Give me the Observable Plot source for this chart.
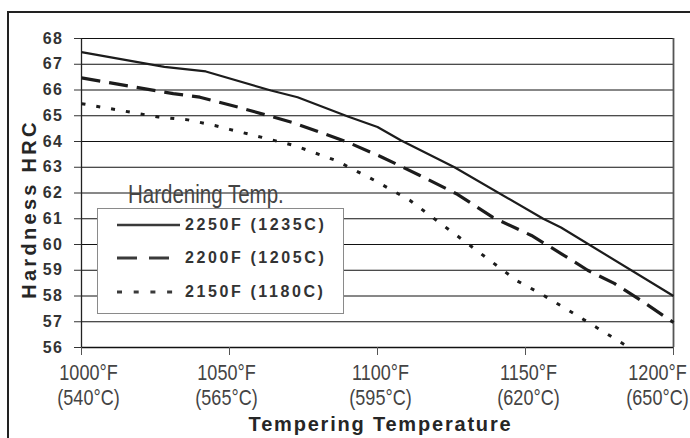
<!DOCTYPE html>
<html>
<head>
<meta charset="utf-8">
<script src="https://cdn.jsdelivr.net/npm/d3@7"></script>
<script src="https://cdn.jsdelivr.net/npm/@observablehq/plot@0.6"></script>
<style>
html, body { margin: 0; padding: 0; background: #fff; }
#wrap { position: relative; width: 690px; height: 438px; overflow: hidden; font-family: "Liberation Sans", Arial, sans-serif; }
#frame { position: absolute; left: 7px; top: 11px; width: 720px; height: 460px; border-left: 2.5px solid #222; border-top: 2.5px solid #222; }
#chart { position: absolute; left: 0; top: 0; }
#legbox { position: absolute; left: 96.5px; top: 207.5px; width: 247px; height: 106px; border: 1.5px solid #8a8a8a; background: #fff; box-sizing: border-box; }
#legtitle { position: absolute; left: 128px; top: 180px; line-height: 28px; color: #444; white-space: nowrap; transform-origin: 0 50%; }
.legrow-sample { position: absolute; width: 64px; height: 8px; }
.legrow-text { position: absolute; font-size: 16px; font-weight: bold; letter-spacing: 2.6px; color: #333; line-height: 20px; white-space: nowrap; }
</style>
</head>
<body>
<div id="wrap">
  <div id="frame"></div>
  <div id="chart"></div>
  <div id="legtitle"></div>
  <div id="legbox"></div>
</div>
<script>
// ---- Data ----
const temps2250 = [1000, 1028, 1042, 1064, 1073, 1090, 1100, 1108, 1126, 1156, 1162, 1200];
const hrc2250   = [67.47, 66.9, 66.72, 65.98, 65.72, 64.97, 64.56, 64.04, 63.0, 61.0, 60.66, 58.0];

const temps2200 = [1000, 1031, 1040, 1053, 1071, 1090, 1101, 1114, 1127, 1139, 1152, 1162, 1171, 1180, 1189, 1200];
const hrc2200   = [66.47, 65.86, 65.72, 65.33, 64.75, 63.97, 63.42, 62.7, 61.95, 61.05, 60.35, 59.65, 59.0, 58.49, 57.83, 56.97];

const temps2150 = [1000, 1026, 1036, 1045, 1050, 1061, 1072, 1086, 1099, 1111, 1120, 1129, 1138, 1147, 1155, 1163, 1174, 1185];
const hrc2150   = [65.47, 64.95, 64.84, 64.62, 64.47, 64.16, 63.84, 63.26, 62.49, 61.71, 60.93, 60.16, 59.38, 58.6, 58.1, 57.55, 56.78, 56.0];

const seriesNames = ["2250F (1235C)", "2200F (1205C)", "2150F (1180C)"];
const xTicksF = [1000, 1050, 1100, 1150, 1200];
const xTicksC = [540, 565, 595, 620, 650];
const yTicks = [56, 57, 58, 59, 60, 61, 62, 63, 64, 65, 66, 67, 68];
const yTitle = "Hardness HRC";
const xTitle = "Tempering Temperature";
const legendTitle = "Hardening Temp.";

// ---- layout / styles ----
const xLabelDx = [7, -3, 3, 3, -16];
const styles = [
  { stroke: "#1c1c1c", strokeWidth: 2.2, dash: null, legWidth: 2.6 },
  { stroke: "#1c1c1c", strokeWidth: 3.2, dash: "19,9", legWidth: 3.2, legDash: "20,12" },
  { stroke: "#1c1c1c", strokeWidth: 3, dash: "4,11", legWidth: 3, legDash: "5,11.7" }
];

// narrow font detection (compare widths against the regular face)
function textW(family, s) {
  const c = document.createElement("canvas").getContext("2d");
  c.font = `40px ${family}`;
  return c.measureText(s).width;
}
const probe = "Hardening Temp. 1000°F (540°C)";
const narrowOK = textW('"Liberation Sans Narrow"', probe) / textW('"Liberation Sans"', probe) < 0.9;
const narrowFamily = narrowOK ? '"Liberation Sans Narrow", sans-serif' : '"Liberation Sans", Arial, sans-serif';
const narrowScale = narrowOK ? 1 : 0.82;

const toRows = (ts, hs) => ts.map((t, i) => ({ t, h: hs[i] }));
const data = [toRows(temps2250, hrc2250), toRows(temps2200, hrc2200), toRows(temps2150, hrc2150)];

const plot = Plot.plot({
  width: 690,
  height: 438,
  marginLeft: 81,
  marginRight: 17,
  marginTop: 38,
  marginBottom: 91,
  style: { background: "transparent", fontFamily: '"Liberation Sans", Arial, sans-serif', overflow: "visible" },
  x: { domain: [1000, 1200] },
  y: { domain: [56, 68] },
  marks: [
    Plot.ruleY(yTicks, { y: d => d, stroke: "#111", strokeWidth: 1 }),
    Plot.ruleY([56], { y: d => d, stroke: "#111", strokeWidth: 1.3 }),
    Plot.ruleX([1000], { x: d => d, stroke: "#222", strokeWidth: 1.3 }),
    Plot.ruleX([1200], { x: d => d, stroke: "#555", strokeWidth: 1.8 }),
    Plot.axisY(yTicks, { tickSize: 7, tickPadding: 11, fontSize: 16, fontWeight: "bold", color: "#333", stroke: "#333", label: null }),
    Plot.axisX(xTicksF, { tickSize: 8, tickFormat: () => "", stroke: "#555", label: null }),
    ...data.map((d, i) => Plot.line(d, {
      x: "t", y: "h", stroke: styles[i].stroke, strokeWidth: styles[i].strokeWidth,
      strokeDasharray: styles[i].dash, strokeLinejoin: "round", strokeLinecap: "butt", curve: "linear"
    })),
    ...xTicksF.map((f, i) => Plot.text([f], {
      x: d => d, frameAnchor: "bottom", text: d => `${d}°F\n(${xTicksC[i]}°C)`,
      lineAnchor: "top", textAnchor: "middle", dx: xLabelDx[i], dy: 15, fontSize: 22, lineHeight: 1.14,
      fill: "#444", ariaLabel: "xticklabel"
    })),
    Plot.text([yTitle], {
      text: d => d, frameAnchor: "left", dx: -52, dy: 16, rotate: -90, textAnchor: "middle",
      lineAnchor: "middle", fontSize: 20, fontWeight: "bold", fill: "#262626", ariaLabel: "ytitle"
    }),
    Plot.text([xTitle], {
      text: d => d, frameAnchor: "bottom", dx: 3, dy: 77, textAnchor: "middle",
      lineAnchor: "middle", fontSize: 20, fontWeight: "bold", fill: "#262626", ariaLabel: "xtitle"
    })
  ]
});
document.getElementById("chart").appendChild(plot);

// post styling of texts
const yTickStr = new Set(yTicks.map(String));
plot.querySelectorAll("text").forEach(t => {
  const s = t.textContent;
  if (s === yTitle) t.style.letterSpacing = "3.3px";
  else if (s === xTitle) t.style.letterSpacing = "1.8px";
  else if (yTickStr.has(s)) t.style.letterSpacing = "1.5px";
  else if (s.includes("°F")) {
    t.style.fontFamily = narrowFamily;
    if (narrowScale !== 1) {
      const tr = t.getAttribute("transform") || "";
      t.setAttribute("transform", tr + ` scale(${narrowScale},1)`);
    }
  }
});

// ---- legend ----
const lt = document.getElementById("legtitle");
lt.textContent = legendTitle;
lt.style.fontFamily = narrowFamily;
lt.style.fontSize = "25px";
if (narrowScale !== 1) lt.style.transform = `scaleX(${narrowScale})`;

const wrap = document.getElementById("wrap");
const rowCenters = [225, 258, 292];
seriesNames.forEach((name, i) => {
  const cy = rowCenters[i];
  const s = styles[i];
  const sv = d3.select(wrap).append("svg")
    .attr("class", "legrow-sample")
    .style("left", "117px").style("top", (cy - 4) + "px")
    .attr("width", 64).attr("height", 8);
  sv.append("line").attr("x1", 0).attr("x2", 63).attr("y1", 4).attr("y2", 4)
    .attr("stroke", "#3a3a3a").attr("stroke-width", s.legWidth)
    .attr("stroke-dasharray", s.legDash || null);
  d3.select(wrap).append("div")
    .attr("class", "legrow-text")
    .style("left", "185px").style("top", (cy - 10) + "px")
    .text(name);
});
</script>
</body>
</html>
